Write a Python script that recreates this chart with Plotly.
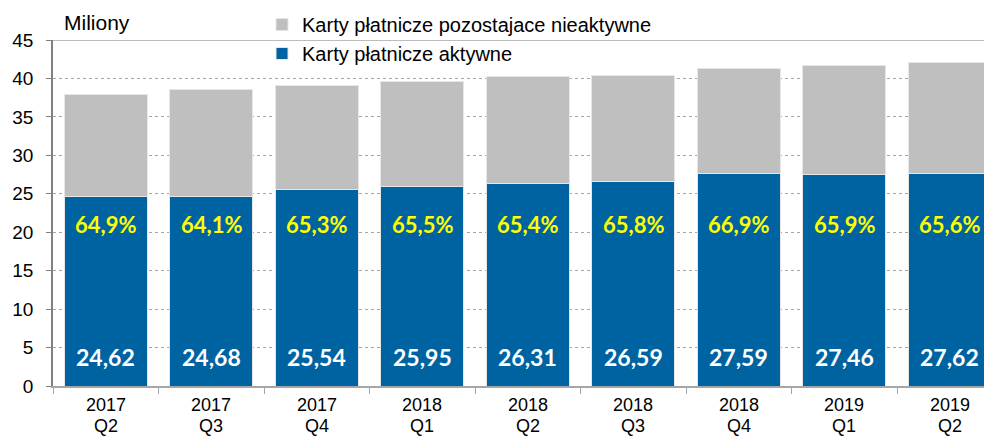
import plotly.graph_objects as go

## data
years = ["2017", "2017", "2017", "2018", "2018", "2018", "2018", "2019", "2019"]
quarters = ["Q2", "Q3", "Q4", "Q1", "Q2", "Q3", "Q4", "Q1", "Q2"]
active = [24.62, 24.68, 25.54, 25.95, 26.31, 26.59, 27.59, 27.46, 27.62]
inactive = [13.32, 13.82, 13.57, 13.67, 13.92, 13.82, 13.65, 14.21, 14.48]
active_labels = ["24,62", "24,68", "25,54", "25,95", "26,31", "26,59", "27,59", "27,46", "27,62"]
share_labels = ["64,9%", "64,1%", "65,3%", "65,5%", "65,4%", "65,8%", "66,9%", "65,9%", "65,6%"]

cats = [y + " " + q for y, q in zip(years, quarters)]

FONT = "Liberation Sans, Arial, sans-serif"
LABEL_FONT = "Lato, Open Sans, sans-serif"
BLUE = "#0063A1"
GREY = "#BFBFBF"

fig = go.Figure()
fig.add_trace(go.Bar(x=cats, y=active, name="Karty płatnicze aktywne",
                     marker=dict(color=BLUE, line=dict(color="#E6E6E6", width=1)),
                     legendgroup="a"))
fig.add_trace(go.Bar(x=cats, y=inactive, name="Karty płatnicze pozostajace nieaktywne",
                     marker=dict(color=GREY, line=dict(color="#E6E6E6", width=1)),
                     legendgroup="b"))

# labels inside the blue bars + two-row category labels
for c, v, s, yr, q in zip(cats, active_labels, share_labels, years, quarters):
    fig.add_annotation(x=c, y=3.8, text="<b>%s</b>" % v, showarrow=False,
                       font=dict(family=LABEL_FONT, size=23, color="white"))
    fig.add_annotation(x=c, y=21.0, text="<b>%s</b>" % s, showarrow=False,
                       font=dict(family=LABEL_FONT, size=22, color="#FFFF00"))
    fig.add_annotation(x=c, xref="x", yref="paper", y=-0.0535, text=yr,
                       showarrow=False, yanchor="middle", height=21,
                       font=dict(family=FONT, size=18, color="black"))
    fig.add_annotation(x=c, xref="x", yref="paper", y=-0.1142, text=q,
                       showarrow=False, yanchor="middle", height=21,
                       font=dict(family=FONT, size=18, color="black"))

fig.add_annotation(xref="paper", yref="paper", x=0.0096, y=1.052, yanchor="middle",
                   xanchor="left", text="Miliony", showarrow=False,
                   font=dict(family=FONT, size=21, color="black"))

# solid line at the top of the plot
fig.add_shape(type="line", xref="paper", yref="y", x0=0, x1=1, y0=45, y1=45,
              line=dict(color="#A6A6A6", width=1.5))

# page has an 8px body margin, so the figure is a bit smaller than the window
fig.update_layout(
    width=984, height=428,
    margin=dict(l=45, r=0, t=32, b=50, autoexpand=False),
    barmode="stack", bargap=0.21,
    plot_bgcolor="white", paper_bgcolor="white",
    font=dict(family=FONT, size=19, color="black"),
    legend=dict(x=0.2226, y=1.1012, xanchor="left", yanchor="top",
                traceorder="reversed", tracegroupgap=5,
                bgcolor="rgba(0,0,0,0)", font=dict(size=20)),
    showlegend=True,
)
fig.update_xaxes(range=[-0.5, 8.4], showgrid=False, showline=True,
                 linecolor="#A6A6A6", linewidth=1.5, ticks="outside",
                 tickson="boundaries", ticklen=6, tickcolor="#A6A6A6",
                 showticklabels=False)
fig.update_yaxes(range=[0, 45], dtick=5, showgrid=True, gridcolor="#A6A6A6",
                 griddash="dot", gridwidth=1, showline=True, linecolor="#808080",
                 linewidth=1.5, ticks="outside", ticklen=5, tickcolor="#808080",
                 ticklabelstandoff=9, tickfont=dict(size=19), zeroline=False)

fig.write_html("out.html")
